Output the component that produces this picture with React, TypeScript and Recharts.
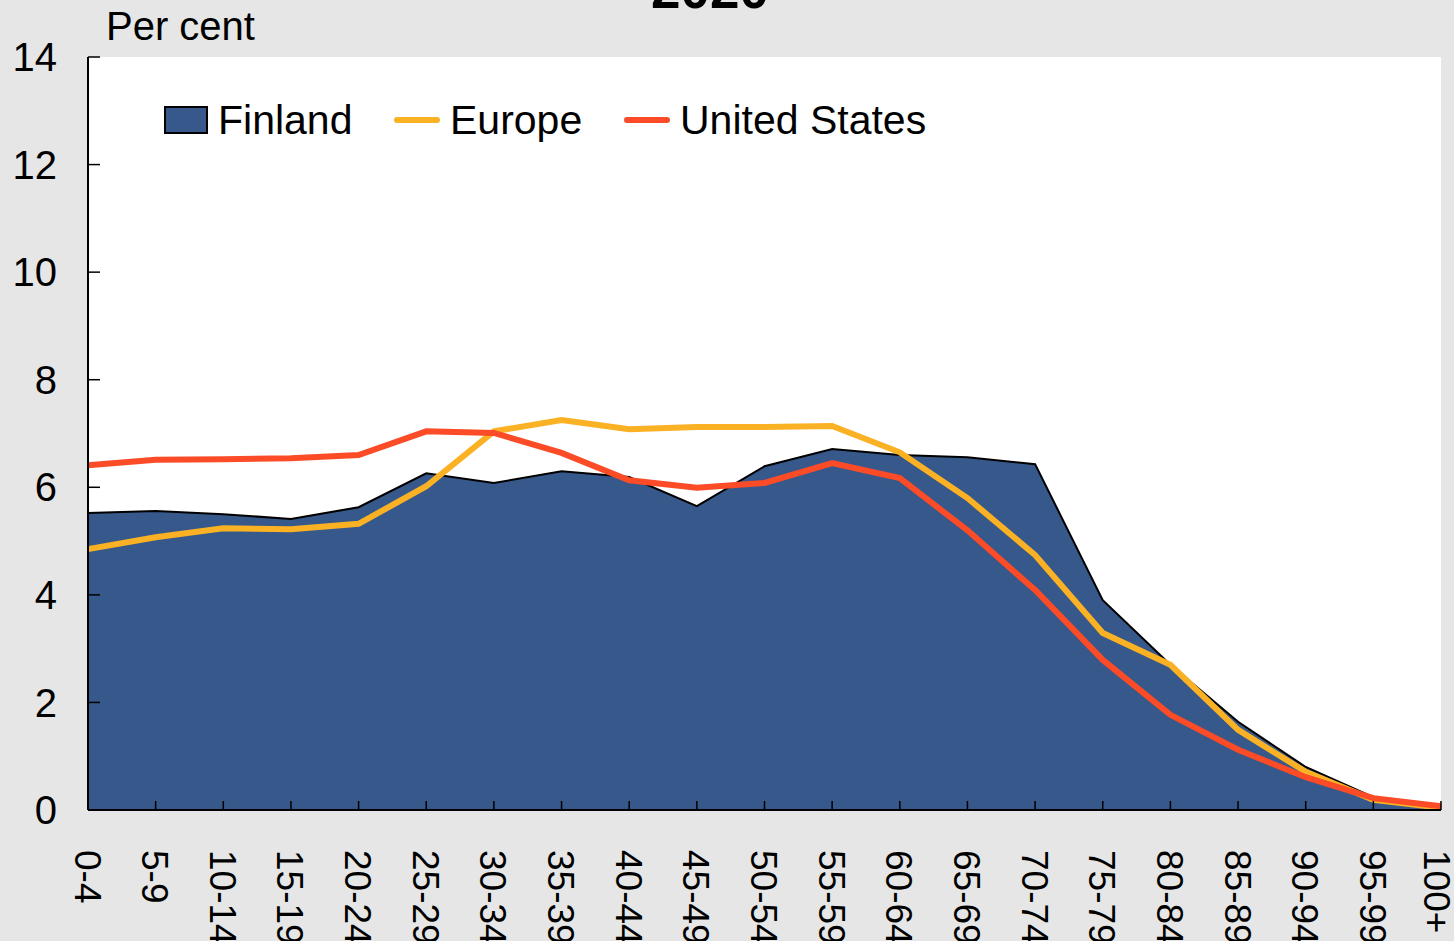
import React from 'react';
import { ComposedChart, Area, Line, XAxis, YAxis, CartesianGrid } from 'recharts';

const ageGroups = ['0-4', '5-9', '10-14', '15-19', '20-24', '25-29', '30-34', '35-39', '40-44', '45-49', '50-54', '55-59', '60-64', '65-69', '70-74', '75-79', '80-84', '85-89', '90-94', '95-99', '100+'];
const finland = [5.52, 5.56, 5.5, 5.41, 5.63, 6.26, 6.08, 6.3, 6.19, 5.65, 6.39, 6.71, 6.6, 6.56, 6.43, 3.9, 2.7, 1.64, 0.8, 0.24, 0.04];
const europe = [4.85, 5.07, 5.24, 5.22, 5.32, 6.02, 7.04, 7.25, 7.08, 7.12, 7.12, 7.14, 6.65, 5.8, 4.74, 3.29, 2.7, 1.49, 0.71, 0.19, 0.04];
const unitedStates = [6.41, 6.51, 6.52, 6.54, 6.6, 7.04, 7.01, 6.64, 6.13, 5.99, 6.08, 6.45, 6.17, 5.2, 4.09, 2.79, 1.77, 1.12, 0.61, 0.22, 0.07];
const yTicks = [0, 2, 4, 6, 8, 10, 12, 14];

const FONT = '"Liberation Sans", Arial, sans-serif';
const FINLAND_COLOR = '#37588a';
const EUROPE_COLOR = '#fbb124';
const US_COLOR = '#fb4b27';
const WIDTH = 1454;
const HEIGHT = 941;

const data = ageGroups.map((age, i) => ({
    age,
    finland: finland[i],
    europe: europe[i],
    us: unitedStates[i],
}));

// rotated labels; keep the last one inside the picture like the original does
const RotatedTick = (props: any) => {
    const { x, y, payload } = props;
    const cx = Math.min(x - 1, WIDTH - 18);
    return (
        <text
            x={cx}
            y={y}
            transform={`rotate(90, ${cx}, ${y})`}
            textAnchor="start"
            dominantBaseline="central"
            fontSize={37}
            fontFamily={FONT}
            fill="#000"
        >
            {payload.value}
        </text>
    );
};

const legendItems = [
    { name: 'Finland', color: FINLAND_COLOR, type: 'box', left: 164 },
    { name: 'Europe', color: EUROPE_COLOR, type: 'line', left: 394 },
    { name: 'United States', color: US_COLOR, type: 'line', left: 624 },
];

const App: React.FC = () => {
    return (
        <div style={{ position: 'absolute', left: 0, top: 0, width: WIDTH, height: HEIGHT, background: '#e5e6e5', overflow: 'hidden', fontFamily: FONT }}>
            <div style={{ position: 'absolute', left: 0, width: 1420, top: -40, textAlign: 'center', fontSize: 53, fontWeight: 'bold', lineHeight: '60px' }}>
                2020
            </div>
            <div style={{ position: 'absolute', left: 106, top: 3, fontSize: 40, lineHeight: '46px' }}>Per cent</div>
            <ComposedChart
                width={WIDTH}
                height={HEIGHT}
                data={data}
                margin={{ top: 57, right: 13, left: 0, bottom: 0 }}
            >
                <CartesianGrid horizontal={false} vertical={false} fill="#ffffff" />
                <XAxis
                    dataKey="age"
                    scale="point"
                    padding={{ left: 0, right: 0 }}
                    interval={0}
                    height={131}
                    tickSize={-9}
                    tickMargin={49}
                    axisLine={{ stroke: '#000', strokeWidth: 2 }}
                    tickLine={{ stroke: '#000', strokeWidth: 1.5 }}
                    tick={<RotatedTick />}
                />
                <XAxis
                    xAxisId="top"
                    dataKey="age"
                    orientation="top"
                    scale="point"
                    height={0}
                    tick={false}
                    tickLine={false}
                    axisLine={{ stroke: '#000', strokeWidth: 2 }}
                />
                <YAxis
                    domain={[0, 14]}
                    ticks={yTicks}
                    width={88}
                    tickSize={-12}
                    tickMargin={43}
                    axisLine={{ stroke: '#000', strokeWidth: 2 }}
                    tickLine={{ stroke: '#000', strokeWidth: 1.5 }}
                    tick={{ fontSize: 40, fontFamily: FONT, fill: '#000' }}
                />
                <YAxis
                    yAxisId="right"
                    orientation="right"
                    domain={[0, 14]}
                    width={0}
                    tick={false}
                    tickLine={false}
                    axisLine={{ stroke: '#000', strokeWidth: 2 }}
                />
                <Area
                    type="linear"
                    dataKey="finland"
                    fill={FINLAND_COLOR}
                    fillOpacity={1}
                    stroke="#000"
                    strokeWidth={2}
                    isAnimationActive={false}
                />
                <Line type="linear" dataKey="europe" stroke={EUROPE_COLOR} strokeWidth={6} dot={false} isAnimationActive={false} />
                <Line type="linear" dataKey="us" stroke={US_COLOR} strokeWidth={6} dot={false} isAnimationActive={false} />
            </ComposedChart>
            {legendItems.map((item) => (
                <div
                    key={item.name}
                    style={{ position: 'absolute', left: item.left, top: 96, display: 'flex', alignItems: 'center', fontSize: 41, lineHeight: '48px', whiteSpace: 'nowrap' }}
                >
                    {item.type === 'box' ? (
                        <div style={{ width: 40, height: 24, background: item.color, border: '2px solid #000', marginRight: 10 }} />
                    ) : (
                        <div style={{ width: 46, height: 6, background: item.color, borderRadius: 3, marginRight: 10 }} />
                    )}
                    <span>{item.name}</span>
                </div>
            ))}
        </div>
    );
};

export default App;
